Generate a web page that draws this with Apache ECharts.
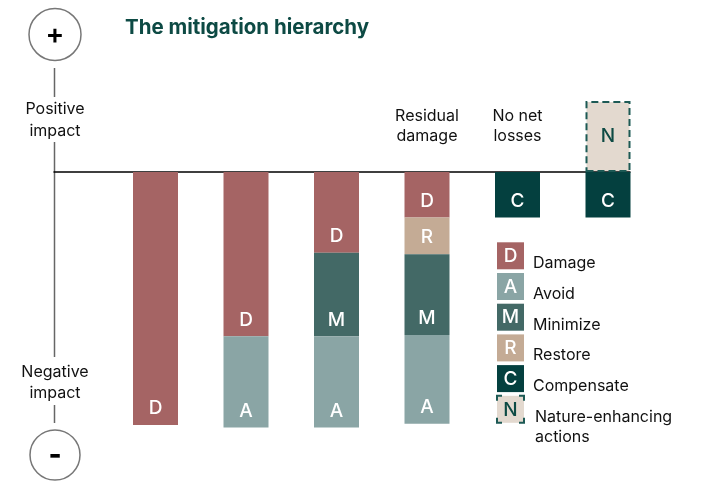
<!DOCTYPE html>
<html>
<head>
<meta charset="utf-8">
<script src="https://cdn.jsdelivr.net/npm/echarts@6/dist/echarts.min.js"></script>
<style>
  html, body { margin: 0; padding: 0; background: #fff; }
  #main { width: 712px; height: 481px; }
</style>
</head>
<body>
<div id="main"></div>
<script>
// columns and the stacked pieces of each column (negative = damage side)
var columns = ['1', '2', '3', '4', '5', '6'];
var damage = [-100, -65, -32, -18, null, null];
var restore = [null, null, null, -14.5, null, null];
var minimize = [null, null, -33, -32, null, null];
var avoid = [null, -36, -36, -35, null, null];
var compensate = [null, null, null, null, -18, -18];
var nature = [null, null, null, null, null, 28];
var topLabels = ['', '', '', 'Residual\ndamage', 'No net\nlosses', ''];

var legendLetters = ['D', 'A', 'M', 'R', 'C', 'N'];
var legendNames = ['Damage', 'Avoid', 'Minimize', 'Restore', 'Compensate', 'Nature-enhancing\nactions'];
var colors = { D: '#a56464', A: '#8aa5a5', M: '#436966', R: '#c4ab95', C: '#04403f', N: '#e3d9cf' };

var FONT = 'Inter, "Noto Sans", sans-serif';
var DARK = '#0d4a44';

function piece(name, letter, arr) {
  return {
    name: name,
    type: 'bar',
    stack: 'all',
    barWidth: 45,
    data: arr,
    itemStyle: { color: colors[letter] },
    label: {
      show: true,
      formatter: letter,
      position: 'insideBottom',
      distance: 7,
      color: '#fff',
      fontSize: 19,
      fontWeight: 500,
      fontFamily: FONT
    },
    emphasis: { disabled: true }
  };
}

var chart = echarts.init(document.getElementById('main'));

var series = [
  piece('Damage', 'D', damage),
  piece('Restore', 'R', restore),
  piece('Minimize', 'M', minimize),
  piece('Avoid', 'A', avoid),
  piece('Compensate', 'C', compensate),
  {
    name: 'Nature-enhancing actions',
    type: 'bar',
    stack: 'all',
    barWidth: 45,
    data: nature,
    itemStyle: { color: colors.N, borderColor: '#1d5a55', borderWidth: 2, borderType: [7, 4] },
    label: { show: true, formatter: 'N', position: 'inside', color: DARK, fontSize: 19, fontWeight: 500, fontFamily: FONT },
    emphasis: { disabled: true }
  }
];

// legend drawn as graphic boxes with the letters inside
var legendItems = [];
legendLetters.forEach(function (l, i) {
  var top = 242.3 + 30.7 * i;
  var box = { type: 'rect', shape: { x: 497, y: top, width: 27, height: 27 }, style: { fill: colors[l] } };
  if (l === 'N') {
    box.style.stroke = '#1d5a55';
    box.style.lineWidth = 2;
    box.style.lineDash = [10, 17];
    box.style.lineDashOffset = 5;
  }
  legendItems.push(box);
  legendItems.push({
    type: 'text',
    style: { text: l, x: 510.5, y: top + 14, textAlign: 'center', textVerticalAlign: 'middle',
      fill: l === 'N' ? DARK : '#fff', font: '500 19px ' + FONT }
  });
  legendItems.push({
    type: 'text',
    style: { text: legendNames[i], x: l === 'N' ? 535 : 533, y: top + 11, textVerticalAlign: 'top',
      lineHeight: 20, fill: '#111', font: '16px ' + FONT }
  });
});

var axisDecor = [
  { type: 'line', shape: { x1: 54.5, y1: 68, x2: 54.5, y2: 97 }, style: { stroke: '#666', lineWidth: 1.5 } },
  { type: 'line', shape: { x1: 54.5, y1: 142, x2: 54.5, y2: 357 }, style: { stroke: '#666', lineWidth: 1.5 } },
  { type: 'line', shape: { x1: 54.5, y1: 405, x2: 54.5, y2: 423 }, style: { stroke: '#666', lineWidth: 1.5 } },
  { type: 'circle', shape: { cx: 55, cy: 34.5, r: 26 }, style: { fill: '#fff', stroke: '#777', lineWidth: 1.5 } },
  { type: 'circle', shape: { cx: 55, cy: 455, r: 25 }, style: { fill: '#fff', stroke: '#777', lineWidth: 1.5 } },
  { type: 'text', style: { text: '+', x: 55, y: 36, textAlign: 'center', textVerticalAlign: 'middle', fill: '#000', font: '600 28px ' + FONT } },
  { type: 'text', style: { text: '-', x: 55, y: 456, textAlign: 'center', textVerticalAlign: 'middle', fill: '#000', font: '800 28px ' + FONT } },
  { type: 'text', style: { text: 'Positive\nimpact', x: 55, y: 98, textAlign: 'center', textVerticalAlign: 'top', lineHeight: 22, fill: '#111', font: '16px ' + FONT } },
  { type: 'text', style: { text: 'Negative\nimpact', x: 55, y: 362, textAlign: 'center', textVerticalAlign: 'top', lineHeight: 21, fill: '#111', font: '16px ' + FONT } }
];

var hidden = { axisLine: { show: false }, axisTick: { show: false }, axisLabel: { show: false }, splitLine: { show: false } };

chart.setOption({
  animation: false,
  title: {
    text: 'The mitigation hierarchy',
    left: 120,
    top: 12,
    textStyle: { color: DARK, fontSize: 20.5, fontWeight: 'bold', fontFamily: FONT }
  },
  grid: [
    // bars
    { left: 110.25, right: 58.75, top: 96, bottom: 30.8 },
    // zero line, running from the impact axis to the last column
    { left: 54, right: 82, top: 96, bottom: 30.8 }
  ],
  xAxis: [
    Object.assign({ type: 'category', data: columns, gridIndex: 0 }, hidden),
    {
      type: 'value', gridIndex: 1, min: 0, max: 1,
      axisLine: { show: true, onZero: true, lineStyle: { color: '#000', width: 1.5 } },
      axisTick: { show: false }, axisLabel: { show: false }, splitLine: { show: false }
    }
  ],
  yAxis: [
    Object.assign({ type: 'value', gridIndex: 0, min: -110, max: 30 }, hidden),
    Object.assign({ type: 'value', gridIndex: 1, min: -110, max: 30 }, hidden)
  ],
  series: series,
  graphic: axisDecor.concat(legendItems)
});

// column headers placed over their columns
var headers = [];
topLabels.forEach(function (t, i) {
  if (!t) return;
  var p = chart.convertToPixel({ xAxisIndex: 0, yAxisIndex: 0 }, [columns[i], 0]);
  headers.push({
    type: 'text',
    style: { text: t, x: p[0], y: 106, textAlign: 'center', textVerticalAlign: 'top', lineHeight: 20, fill: '#111', font: '16px ' + FONT }
  });
});
chart.setOption({ graphic: axisDecor.concat(legendItems, headers) });
</script>
</body>
</html>
